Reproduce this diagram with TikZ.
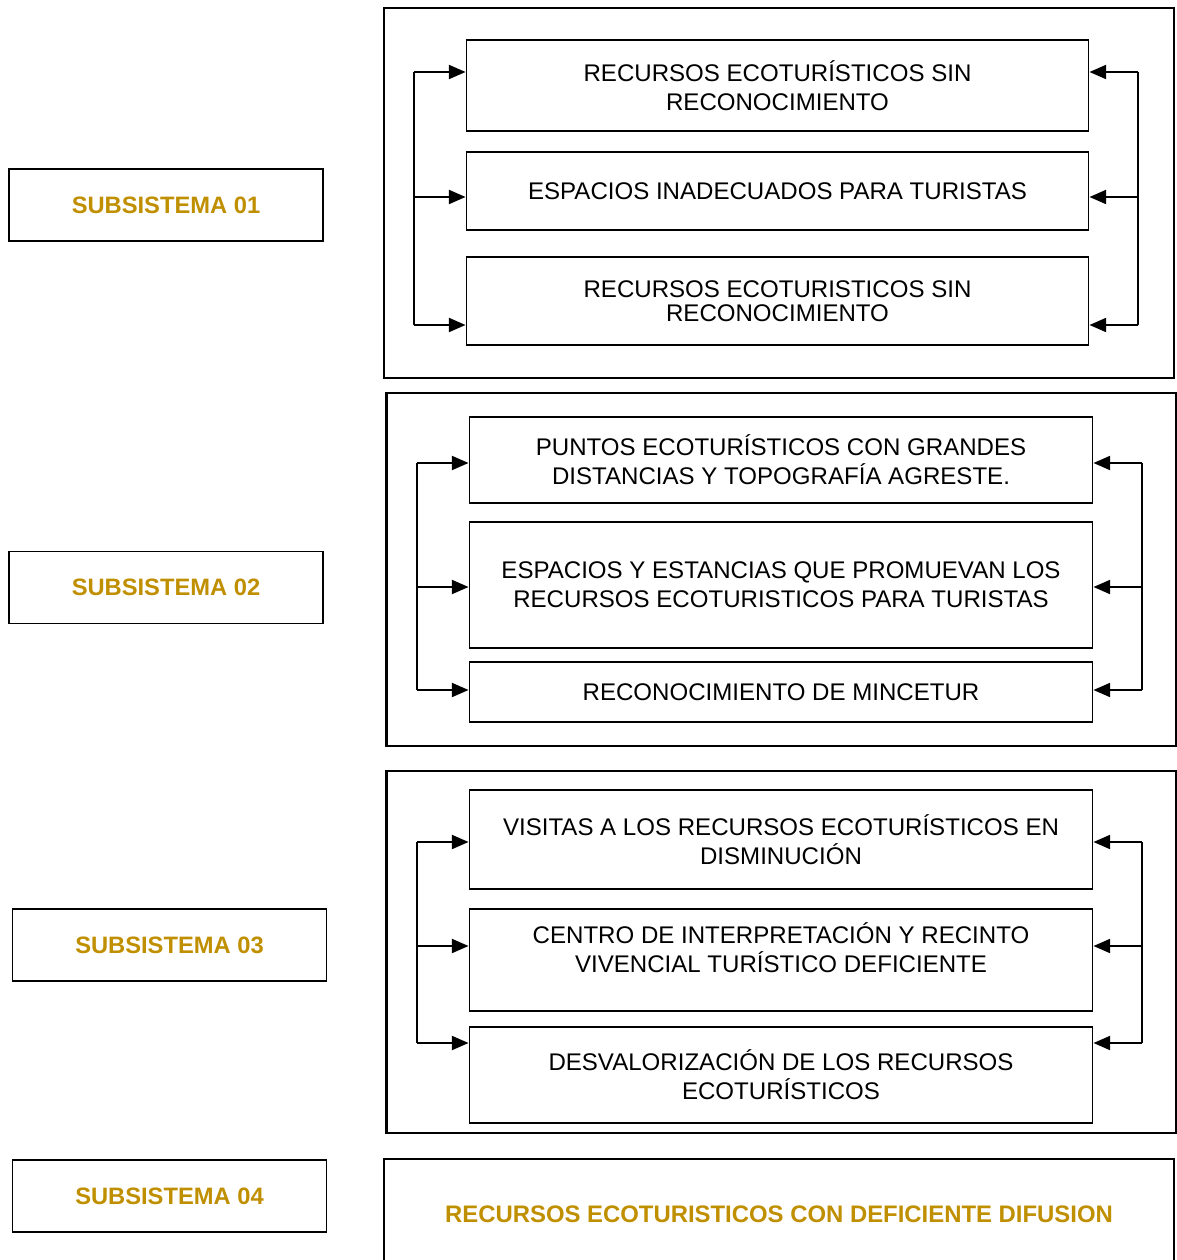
\documentclass[tikz,border=0pt]{standalone}
\usepackage{fontspec}
\setmainfont{Liberation Sans}
\usetikzlibrary{arrows.meta}
\definecolor{subgold}{RGB}{192,143,0}

\begin{document}
\begin{tikzpicture}[x=0.02cm,y=-0.02cm,
    subbox/.style = {draw,line width=0.8pt,minimum width=6.28cm,minimum height=1.44cm,
                     font=\fontsize{13.5}{16}\selectfont\bfseries,text=subgold},
    bigbox/.style = {draw,line width=1.5pt,minimum width=15.8cm},
    ibox/.style   = {draw,line width=0.6pt,minimum width=12.48cm,align=center,
                     font=\fontsize{13.7}{16.4}\selectfont},
    vline/.style  = {line width=0.7pt},
    arr/.style    = {line width=1.1pt,-{Triangle[length=9.5pt,width=8pt]}}]

            %\draw [help lines] (0,0) grid (1176,1260);
            \useasboundingbox (0,0) rectangle (1176,1260);

            % subsistemas
            \path   (166,205)    node (s1) [subbox] {SUBSISTEMA 01}
                    (166,587.5)  node (s2) [subbox] {SUBSISTEMA 02}
                    (169.5,945)  node (s3) [subbox] {SUBSISTEMA 03}
                    (169.5,1196) node (s4) [subbox] {SUBSISTEMA 04};

            % cajas grandes
            \path   (779,193)     node (g1) [bigbox,minimum height=7.4cm] {}
                    (781.5,569.5) node (g2) [bigbox,minimum height=7.06cm] {}
                    (781.5,952)   node (g3) [bigbox,minimum height=7.24cm] {}
                    (779,1214.5)  node (g4) [bigbox,minimum height=2.22cm,
                                   font=\fontsize{13.6}{16}\selectfont\bfseries,text=subgold]
                                   {RECURSOS ECOTURISTICOS CON DEFICIENTE DIFUSION};

            % subsistema 01
            \path   (777.5,85.5) node (a1) [ibox,minimum width=12.46cm,minimum height=1.82cm]
                                   {RECURSOS ECOTURÍSTICOS SIN\\RECONOCIMIENTO}
                    (777.5,191)  node (b1) [ibox,minimum width=12.46cm,minimum height=1.56cm]
                                   {ESPACIOS INADECUADOS PARA TURISTAS}
                    (777.5,301)  node (c1) [ibox,minimum width=12.46cm,minimum height=1.76cm]
                                   {RECURSOS ECOTURISTICOS SIN\\[-3pt]RECONOCIMIENTO};

            % subsistema 02
            \path   (781,460)    node (a2) [ibox,minimum height=1.72cm]
                                   {PUNTOS ECOTURÍSTICOS CON GRANDES\\DISTANCIAS Y TOPOGRAFÍA AGRESTE.}
                    (781,585)    node (b2) [ibox,minimum height=2.52cm]
                                   {ESPACIOS Y ESTANCIAS QUE PROMUEVAN LOS\\RECURSOS ECOTURISTICOS PARA TURISTAS}
                    (781,692)    node (c2) [ibox,minimum height=1.2cm]
                                   {RECONOCIMIENTO DE MINCETUR};

            % subsistema 03
            \path   (781,839.5)  node (a3) [ibox,minimum height=1.98cm]
                                   {VISITAS A LOS RECURSOS ECOTURÍSTICOS EN\\DISMINUCIÓN}
                    (781,960)    node (b3) [ibox,minimum height=2.04cm,text depth=0.5cm]
                                   {CENTRO DE INTERPRETACIÓN Y RECINTO\\VIVENCIAL TURÍSTICO DEFICIENTE}
                    (781,1075)   node (c3) [ibox,minimum height=1.92cm]
                                   {DESVALORIZACIÓN DE LOS RECURSOS\\ECOTURÍSTICOS};

            % puntos de las lineas de retorno
            \coordinate (l1a) at (414,72);   \coordinate (l1b) at (414,197);  \coordinate (l1c) at (414,325);
            \coordinate (r1a) at (1138,72);  \coordinate (r1b) at (1138,197); \coordinate (r1c) at (1138,325);
            \coordinate (l2a) at (417,463);  \coordinate (l2b) at (417,587);  \coordinate (l2c) at (417,690);
            \coordinate (r2a) at (1142,463); \coordinate (r2b) at (1142,587); \coordinate (r2c) at (1142,690);
            \coordinate (l3a) at (417,842);  \coordinate (l3b) at (417,946);  \coordinate (l3c) at (417,1043);
            \coordinate (r3a) at (1142,842); \coordinate (r3b) at (1142,946); \coordinate (r3c) at (1142,1043);

            \draw[vline] (l1a) -- (l1c);
            \draw[vline] (r1a) -- (r1c);
            \draw[vline] (l2a) -- (l2c);
            \draw[vline] (r2a) -- (r2c);
            \draw[vline] (l3a) -- (l3c);
            \draw[vline] (r3a) -- (r3c);

            \draw[arr] (l1a) -- (l1a -| a1.west);
            \draw[arr] (l1b) -- (l1b -| b1.west);
            \draw[arr] (l1c) -- (l1c -| c1.west);
            \draw[arr] (r1a) -- (r1a -| a1.east);
            \draw[arr] (r1b) -- (r1b -| b1.east);
            \draw[arr] (r1c) -- (r1c -| c1.east);
            \draw[arr] (l2a) -- (l2a -| a2.west);
            \draw[arr] (l2b) -- (l2b -| b2.west);
            \draw[arr] (l2c) -- (l2c -| c2.west);
            \draw[arr] (r2a) -- (r2a -| a2.east);
            \draw[arr] (r2b) -- (r2b -| b2.east);
            \draw[arr] (r2c) -- (r2c -| c2.east);
            \draw[arr] (l3a) -- (l3a -| a3.west);
            \draw[arr] (l3b) -- (l3b -| b3.west);
            \draw[arr] (l3c) -- (l3c -| c3.west);
            \draw[arr] (r3a) -- (r3a -| a3.east);
            \draw[arr] (r3b) -- (r3b -| b3.east);
            \draw[arr] (r3c) -- (r3c -| c3.east);
        \end{tikzpicture}
\end{document}
